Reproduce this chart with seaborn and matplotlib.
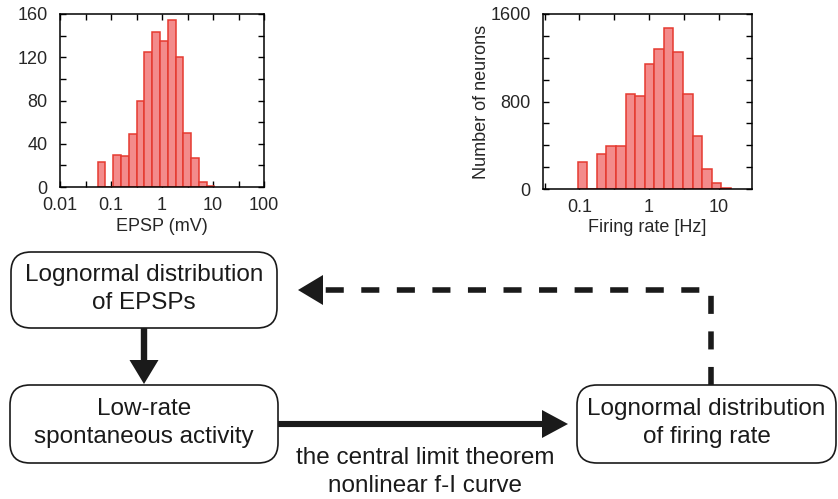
import numpy as np
import matplotlib
matplotlib.use("Agg")
import matplotlib.pyplot as plt
import matplotlib.ticker as mticker
from matplotlib.patches import FancyBboxPatch, Polygon
import seaborn as sns

# ---- EPSP amplitude histogram (log-spaced bins) ----
epsp_centers = [0.065, 0.093, 0.132, 0.187, 0.266, 0.378, 0.538, 0.764,
                1.086, 1.542, 2.19, 3.12, 4.43, 6.29, 8.93]
epsp_counts = [23, 0, 30, 29, 49, 80, 125, 143, 135, 154, 120, 50, 27, 5, 1]
epsp_ticks = [0.01, 0.1, 1, 10, 100]
epsp_ylabels = [0, 40, 80, 120, 160]

# ---- Firing-rate histogram (log-spaced bins) ----
rate_centers = [0.110, 0.151, 0.208, 0.286, 0.392, 0.538, 0.738, 1.014,
                1.393, 1.910, 2.62, 3.60, 4.94, 6.79, 9.31, 12.8]
rate_counts = [250, 0, 320, 393, 393, 872, 850, 1146, 1280, 1469, 1250,
               869, 488, 183, 55, 12]
rate_ticks = [0.1, 1, 10]
rate_ylabels = [0, 800, 1600]

# ---- Flow-chart text ----
box_epsp = "Lognormal distribution\nof EPSPs"
box_low = "Low-rate\nspontaneous activity"
box_rate = "Lognormal distribution\nof firing rate"
arrow_caption = "the central limit theorem\nnonlinear f-I curve"

sns.set_style("ticks")
plt.rcParams["font.family"] = ["Liberation Sans", "DejaVu Sans"]
plt.rcParams["lines.scale_dashes"] = False

W, H = 838, 499
fig = plt.figure(figsize=(W / 100, H / 100), dpi=100)

fill_c = "#f38b8b"
edge_c = "#e53a30"


def px_axes(x0, y0, x1, y1):
    return fig.add_axes([x0 / W, 1 - y1 / H, (x1 - x0) / W, (y1 - y0) / H])


def style_hist(ax, xlim, xticks, minor_x, ylim, yticks, ystep):
    ax.set_xlim(*xlim)
    ax.set_ylim(*ylim)
    ax.xaxis.set_major_locator(mticker.FixedLocator(xticks))
    ax.xaxis.set_major_formatter(mticker.FuncFormatter(lambda v, p: f"{v:g}"))
    ax.xaxis.set_minor_locator(mticker.FixedLocator(minor_x))
    ax.xaxis.set_minor_formatter(mticker.NullFormatter())
    ax.yaxis.set_major_locator(mticker.FixedLocator(yticks))
    ax.yaxis.set_minor_locator(mticker.MultipleLocator(ystep))
    ax.tick_params(which="both", direction="in", top=True, right=True,
                   width=1.0, color="black", labelsize=13, length=4)
    ax.tick_params(axis="x", which="major", pad=7)
    ax.tick_params(axis="y", which="major", pad=9)
    for s in ax.spines.values():
        s.set_visible(True)
        s.set_linewidth(1.1)
        s.set_color("black")
    ax.set_facecolor("white")


# Left: EPSP histogram
ax1 = px_axes(60, 14, 264, 187)
sns.histplot(x=epsp_centers, weights=epsp_counts, log_scale=True,
             binwidth=0.1526, binrange=(-1.261, -1.261 + 15 * 0.1526),
             color=fill_c, edgecolor=edge_c, linewidth=1.1, alpha=1,
             ax=ax1)
style_hist(ax1, (0.01, 100), epsp_ticks,
           [10 ** e for e in (-1.5, -0.5, 0.5, 1.5)],
           (0, 160), epsp_ylabels, 20)
ax1.set_ylabel("")
ax1.set_xlabel("EPSP (mV)", fontsize=13, labelpad=3)

# Right: firing-rate histogram
ax2 = px_axes(543, 14, 752, 189)
sns.histplot(x=rate_centers, weights=rate_counts, log_scale=True,
             binwidth=0.1376, binrange=(-1.026, -1.026 + 16 * 0.1376),
             color=fill_c, edgecolor=edge_c, linewidth=1.1, alpha=1,
             ax=ax2)
style_hist(ax2, (0.03, 30), rate_ticks,
           [10 ** e for e in (-1.5, -0.5, 0.5, 1.5)],
           (0, 1600), rate_ylabels, 200)
ax2.set_xlabel("Firing rate [Hz]", fontsize=13, labelpad=2)
ax2.set_ylabel("Number of neurons", fontsize=13, labelpad=0)

# ---- Flow chart overlay in pixel coordinates ----
fc = fig.add_axes([0, 0, 1, 1], zorder=-1)
fc.set_xlim(0, W)
fc.set_ylim(H, 0)
fc.axis("off")

txt_kw = dict(ha="center", va="center", fontsize=17.5, linespacing=1.38,
              color="#1a1a1a", multialignment="center")


def rbox(x0, y0, x1, y1, label):
    fc.add_patch(FancyBboxPatch((x0, y0), x1 - x0, y1 - y0,
                                boxstyle="round,pad=0,rounding_size=20",
                                fc="white", ec="#1a1a1a", lw=1.2))
    fc.text((x0 + x1) / 2, (y0 + y1) / 2 - 1, label, **txt_kw)


rbox(11, 252, 277, 328, box_epsp)
rbox(10, 385, 278, 463, box_low)
rbox(577, 385, 836, 463, box_rate)

ink = "#1a1a1a"
# down arrow
fc.plot([144, 144], [328, 362], color=ink, lw=4.6, solid_capstyle="butt")
fc.add_patch(Polygon([[129.5, 360], [158.5, 360], [144, 384]], closed=True,
                     fc=ink, ec="none"))
# horizontal arrow
fc.plot([278, 544], [424, 424], color=ink, lw=4.4, solid_capstyle="butt")
fc.add_patch(Polygon([[542, 410], [542, 438], [568, 424]], closed=True,
                     fc=ink, ec="none"))
fc.text(425, 472, arrow_caption, **txt_kw)
# dashed feedback arrow
fc.plot([711, 711, 325], [385, 290, 290], color=ink, lw=4.0,
        linestyle=(0, (13.0, 12.6)), solid_joinstyle="miter",
        dash_capstyle="butt")
fc.add_patch(Polygon([[323, 275], [323, 305], [298, 290]], closed=True,
                     fc=ink, ec="none"))

fig.savefig("out.png", dpi=100, facecolor="white")
